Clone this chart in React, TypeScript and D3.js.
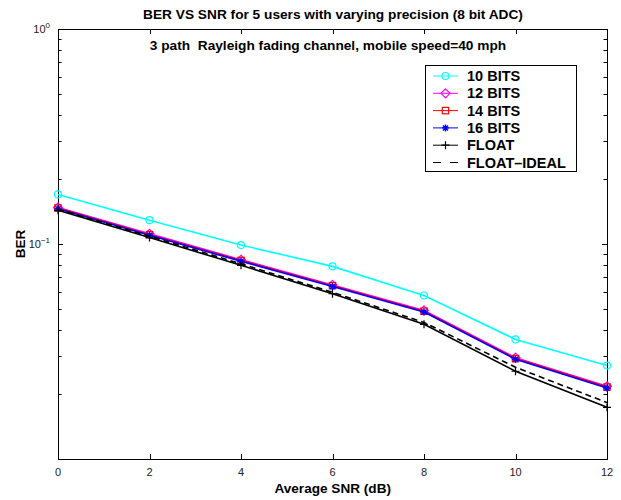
import React, { useEffect, useRef } from 'react';
import * as d3 from 'd3';

// SNR points (dB)
const snr = [0, 2, 4, 6, 8, 10, 12];

// BER per precision
const bits10 = [0.170, 0.129, 0.0989, 0.0787, 0.0576, 0.0360, 0.0272];
const bits12 = [0.148, 0.1115, 0.0845, 0.0645, 0.0491, 0.0296, 0.0218];
const bits14 = [0.147, 0.1105, 0.0838, 0.0640, 0.0487, 0.0293, 0.0216];
const bits16 = [0.1459, 0.1098, 0.0831, 0.0635, 0.0483, 0.0291, 0.0214];
const floatBer = [0.1435, 0.1071, 0.0796, 0.0587, 0.0423, 0.0256, 0.0174];
const floatIdeal = [0.1450, 0.1086, 0.0809, 0.0596, 0.0432, 0.0267, 0.0183];

const seriesNames = ['10 BITS', '12 BITS', '14 BITS', '16 BITS', 'FLOAT', 'FLOAT\u2013IDEAL'];
const seriesValues = [bits10, bits12, bits14, bits16, floatBer, floatIdeal];
const seriesColors = ['#00ffff', '#ff00ff', '#ff0000', '#0000ff', '#000000', '#000000'];
const seriesMarkers = ['circle', 'diamond', 'square', 'star', 'plus', 'none'];

const xTicks = [0, 2, 4, 6, 8, 10, 12];

const FONT = '"Liberation Sans", Arial, Helvetica, sans-serif';

const drawMarker = (g, type, x, y, color) => {
  if (type === 'circle') {
    g.append('circle').attr('cx', x).attr('cy', y).attr('r', 3.5)
      .attr('fill', 'none').attr('stroke', color).attr('stroke-width', 1.2);
  } else if (type === 'diamond') {
    const s = 4.5;
    g.append('path')
      .attr('d', `M${x},${y - s}L${x + s},${y}L${x},${y + s}L${x - s},${y}Z`)
      .attr('fill', 'none').attr('stroke', color).attr('stroke-width', 1.2);
  } else if (type === 'square') {
    g.append('rect').attr('x', x - 3.2).attr('y', y - 3.2).attr('width', 6.4).attr('height', 6.4)
      .attr('fill', 'none').attr('stroke', color).attr('stroke-width', 1.2);
  } else if (type === 'star') {
    const s = 3.5;
    const d = 2.5;
    g.append('path')
      .attr('d', `M${x - s},${y}L${x + s},${y}M${x},${y - s}L${x},${y + s}M${x - d},${y - d}L${x + d},${y + d}M${x - d},${y + d}L${x + d},${y - d}`)
      .attr('stroke', color).attr('stroke-width', 1.4);
  } else if (type === 'plus') {
    const s = 4;
    g.append('path')
      .attr('d', `M${x - s},${y}L${x + s},${y}M${x},${y - s}L${x},${y + s}`)
      .attr('stroke', color).attr('stroke-width', 1.2);
  }
};

const App = () => {
  const chartRef = useRef(null);

  useEffect(() => {
    const width = 621;
    const height = 500;
    const left = 58;
    const right = 607;
    const top = 29;
    const bottom = 459;

    const x = d3.scaleLinear().domain([0, 12]).range([left, right]);
    const y = d3.scaleLog().domain([0.01, 1]).range([bottom, top]);

    const svg = d3.select(chartRef.current)
      .append('svg')
      .attr('width', width)
      .attr('height', height)
      .style('position', 'absolute')
      .style('left', '0px')
      .style('top', '0px')
      .style('background', '#fff')
      .attr('font-family', FONT);

    // minor + major y ticks on both sides
    const yTickVals = [];
    for (let e = -2; e < 0; e++) {
      for (let m = 1; m < 10; m++) yTickVals.push(m * Math.pow(10, e));
    }
    yTickVals.push(1);
    const tickG = svg.append('g').attr('stroke', '#000').attr('stroke-width', 1);
    yTickVals.forEach((v) => {
      const isMajor = Math.abs(Math.log10(v) - Math.round(Math.log10(v))) < 1e-9;
      const len = isMajor ? 5 : 3.5;
      const yy = Math.round(y(v)) + 0.5;
      tickG.append('line').attr('x1', left).attr('x2', left + len).attr('y1', yy).attr('y2', yy);
      tickG.append('line').attr('x1', right - len).attr('x2', right).attr('y1', yy).attr('y2', yy);
    });
    xTicks.forEach((t) => {
      const xx = Math.round(x(t)) + 0.5;
      tickG.append('line').attr('x1', xx).attr('x2', xx).attr('y1', bottom).attr('y2', bottom - 5);
      tickG.append('line').attr('x1', xx).attr('x2', xx).attr('y1', top).attr('y2', top + 5);
    });

    // axes box
    svg.append('rect')
      .attr('x', left + 0.5).attr('y', top + 0.5)
      .attr('width', right - left).attr('height', bottom - top)
      .attr('fill', 'none').attr('stroke', '#000').attr('stroke-width', 1);

    // x tick labels
    svg.append('g').selectAll('text').data(xTicks).enter().append('text')
      .attr('x', (d) => x(d)).attr('y', bottom + 17)
      .attr('text-anchor', 'middle').attr('font-size', 11).attr('fill', '#222')
      .text((d) => d);

    // y tick labels (10^0, 10^-1)
    [0, -1].forEach((e) => {
      const t = svg.append('text').attr('x', left - 8).attr('y', y(Math.pow(10, e)) + 4)
        .attr('text-anchor', 'end').attr('font-size', 11).attr('fill', '#222');
      t.append('tspan').text('10');
      t.append('tspan').attr('font-size', 8).attr('dy', -5).text(e === 0 ? '0' : '\u22121');
    });

    // series
    const line = d3.line().x((d) => x(d[0])).y((d) => y(d[1]));
    seriesValues.forEach((vals, i) => {
      const pts = snr.map((s, j) => [s, vals[j]]);
      const g = svg.append('g');
      g.append('path')
        .attr('d', line(pts))
        .attr('fill', 'none')
        .attr('stroke', seriesColors[i])
        .attr('stroke-width', 1.6)
        .attr('stroke-dasharray', seriesMarkers[i] === 'none' ? '6,4' : null);
      pts.forEach((p) => drawMarker(g, seriesMarkers[i], x(p[0]), y(p[1]), seriesColors[i]));
    });

    // titles
    svg.append('text').attr('x', 333).attr('y', 18.5).attr('text-anchor', 'middle')
      .attr('font-size', 13.7).attr('font-weight', 'bold').text('BER VS SNR for 5 users with varying precision (8 bit ADC)');
    svg.append('text').attr('x', 328).attr('y', 49.5).attr('text-anchor', 'middle')
      .attr('font-size', 13.7).attr('font-weight', 'bold').style('white-space', 'pre')
      .text('3 path  Rayleigh fading channel, mobile speed=40 mph');
    svg.append('text').attr('x', 332.7).attr('y', 493.3).attr('text-anchor', 'middle')
      .attr('font-size', 13.6).attr('font-weight', 'bold').text('Average SNR (dB)');
    svg.append('text').attr('transform', `translate(25,${(top + bottom) / 2}) rotate(-90)`)
      .attr('text-anchor', 'middle').attr('font-size', 13.6).attr('font-weight', 'bold').text('BER');

    // legend
    const lg = svg.append('g');
    lg.append('rect').attr('x', 425.5).attr('y', 65.5).attr('width', 151).attr('height', 106)
      .attr('fill', '#fff').attr('stroke', '#000').attr('stroke-width', 1);
    seriesNames.forEach((name, i) => {
      const yy = 76 + i * 17.3;
      lg.append('line').attr('x1', 433).attr('x2', 458).attr('y1', yy).attr('y2', yy)
        .attr('stroke', seriesColors[i]).attr('stroke-width', 1)
        .attr('stroke-dasharray', seriesMarkers[i] === 'none' ? '8,9' : null);
      drawMarker(lg, seriesMarkers[i], 445.5, yy, seriesColors[i]);
      lg.append('text').attr('x', 467).attr('y', yy + 5)
        .attr('font-size', 14.5).attr('font-weight', 'bold').text(name);
    });

    return () => {
      d3.select(chartRef.current).selectAll('*').remove();
    };
  }, []);

  return <div ref={chartRef}></div>;
};

export default App;
